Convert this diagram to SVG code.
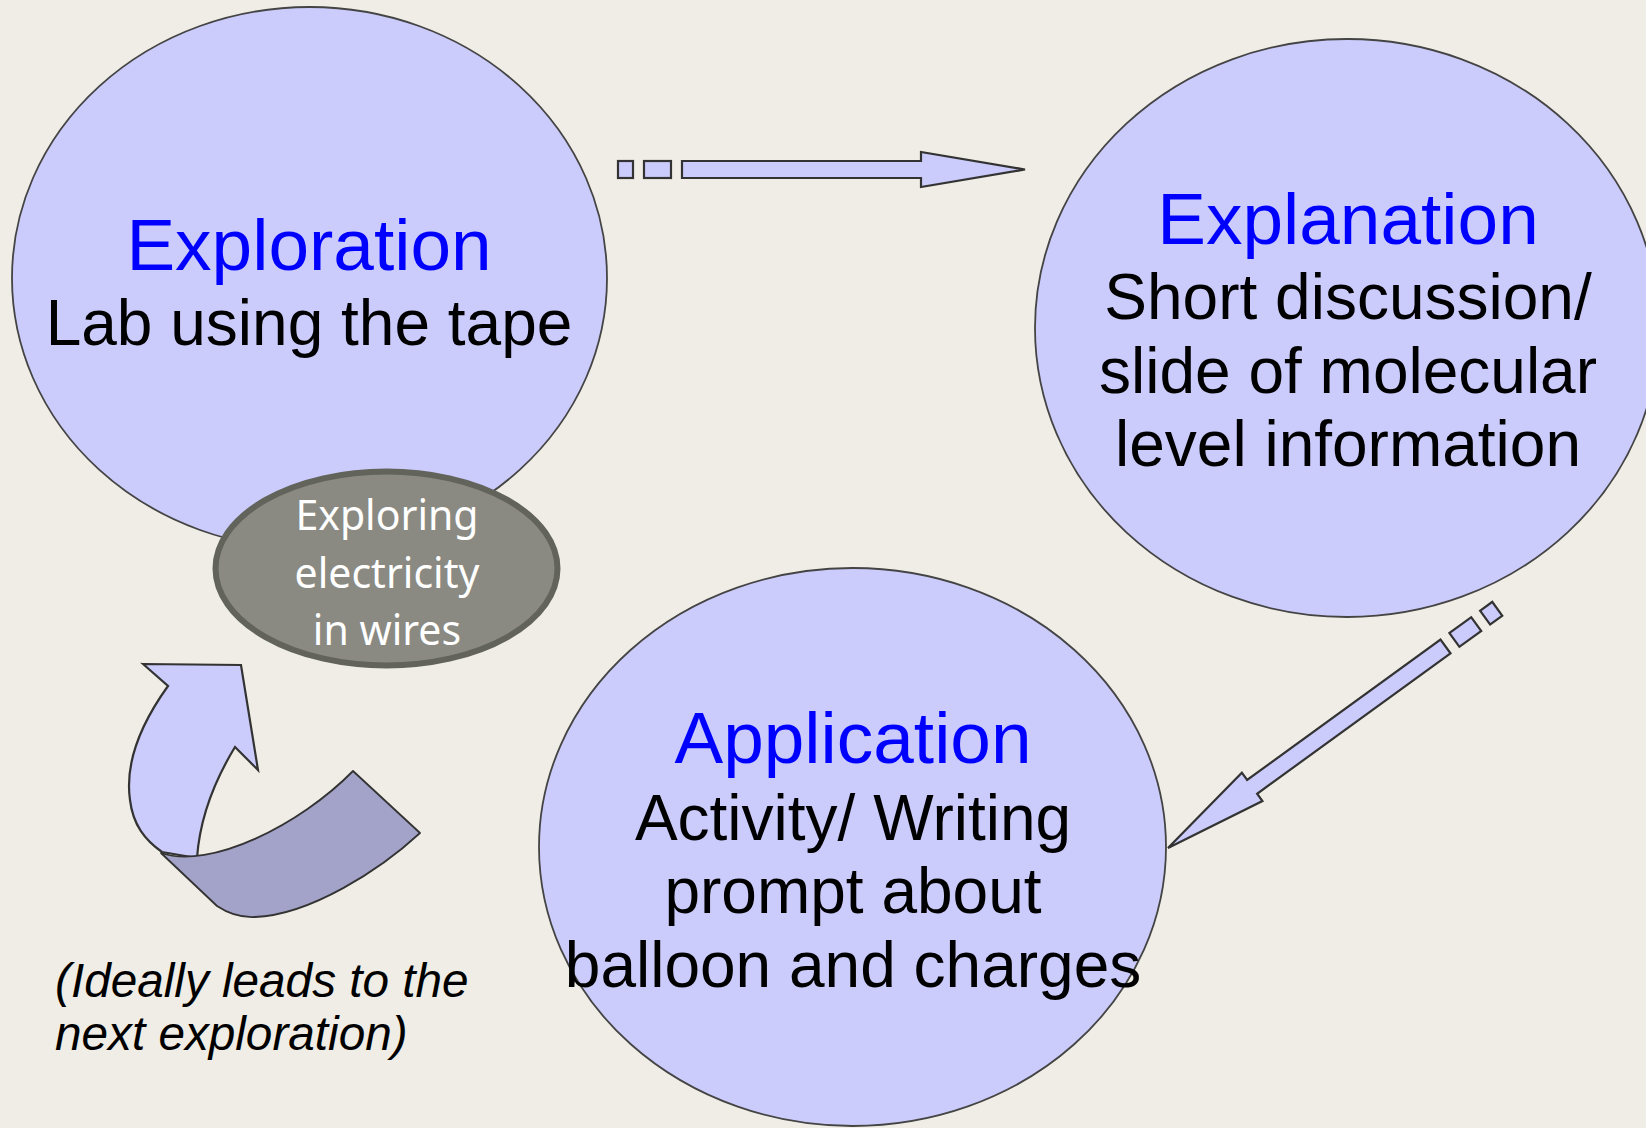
<svg xmlns="http://www.w3.org/2000/svg" xmlns:xlink="http://www.w3.org/1999/xlink" width="1646" height="1128" viewBox="0 0 1646 1128">
  <style>
    .bubble { fill: #ccccfc; stroke: #444444; stroke-width: 1.8; }
    .title { font-family: "Liberation Sans", Arial, sans-serif; font-size: 73px; fill: #0000ff; text-anchor: middle; }
    .body { font-family: "Liberation Sans", Arial, sans-serif; font-size: 64px; fill: #000000; text-anchor: middle; }
    .sub { font-family: "Noto Sans", "Open Sans", sans-serif; font-size: 41px; fill: #ffffff; text-anchor: middle; }
    .note { font-family: "Liberation Sans", Arial, sans-serif; font-size: 47.7px; font-style: italic; fill: #000000; }
    .arrow { fill: #ccccfc; stroke: #333333; stroke-width: 2.2; stroke-linejoin: miter; }
  </style>
  <defs>
    <g id="dashArrow">
      <rect x="-407" y="-8.5" width="15" height="17" class="arrow"/>
      <rect x="-381" y="-8.5" width="27" height="17" class="arrow"/>
      <path d="M-343,-8.5 L-104,-8.5 L-104,-17.5 L0,0 L-104,17.5 L-104,8.5 L-343,8.5 Z" class="arrow"/>
    </g>
  </defs>
  <rect x="0" y="0" width="1646" height="1128" fill="#efede5"/>

  <g id="exploration">
    <ellipse cx="309.5" cy="278" rx="297.5" ry="271" class="bubble"/>
    <text x="309" y="270" class="title">Exploration</text>
    <text x="309" y="345" class="body">Lab using the tape</text>
  </g>

  <g id="explanation">
    <ellipse cx="1347" cy="328" rx="312" ry="289" class="bubble"/>
    <text x="1348" y="244" class="title">Explanation</text>
    <text x="1348" y="319" class="body">Short discussion/</text>
    <text x="1348" y="393" class="body">slide of molecular</text>
    <text x="1348" y="466" class="body">level information</text>
  </g>

  <g id="application">
    <ellipse cx="852.5" cy="847" rx="313.5" ry="279" class="bubble"/>
    <text x="853" y="763" class="title">Application</text>
    <text x="853" y="840" class="body">Activity/ Writing</text>
    <text x="853" y="913" class="body">prompt about</text>
    <text x="853" y="987" class="body">balloon and charges</text>
  </g>

  <g id="exploring-electricity">
    <ellipse cx="386.5" cy="568.5" rx="171" ry="97" fill="#8a8a83" stroke="#62635b" stroke-width="6"/>
    <text x="387" y="530" class="sub">Exploring</text>
    <text x="387" y="588" class="sub">electricity</text>
    <text x="387" y="645" class="sub">in wires</text>
  </g>

  <g id="connectors">
    <use xlink:href="#dashArrow" href="#dashArrow" transform="translate(1025,169.5)"/>
    <use xlink:href="#dashArrow" href="#dashArrow" transform="translate(1168,848) rotate(144)"/>
    <g id="cycle-arrow">
      <path d="M143,664 L241,665 L258,770 L235,747 C218,775 200,815 197,858 L162,852 C145,840 133,825 130,800 C125,765 140,725 168,686 Z" class="arrow" stroke-width="1.8"/>
      <path d="M161,853 C210,870 300,825 353,771 L420,833 C380,870 310,915 255,917 Q235,918 217,906 Z" fill="#a3a3c9" stroke="#333333" stroke-width="1.8" stroke-linejoin="round"/>
    </g>
  </g>

  <g id="note">
    <text x="55" y="997" class="note">(Ideally leads to the</text>
    <text x="55" y="1050" class="note">next exploration)</text>
  </g>
</svg>
